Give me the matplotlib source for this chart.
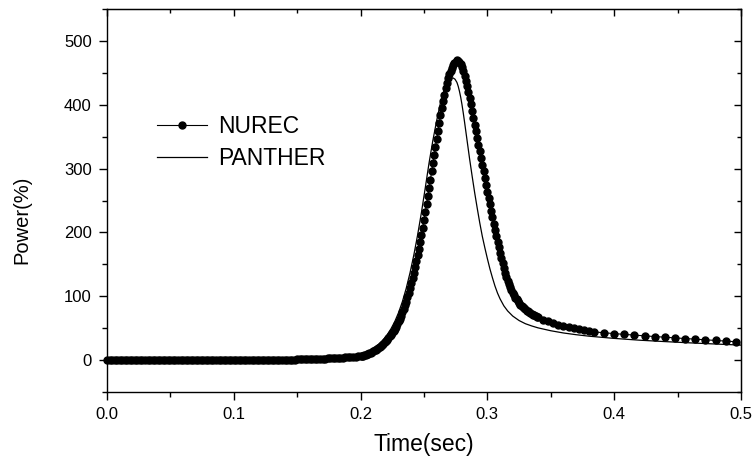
# ============================================================
# import
# ============================================================
import numpy as np
import matplotlib
matplotlib.use('Agg')
import matplotlib.pyplot as plt
from matplotlib.ticker import MultipleLocator

plt.rcParams['font.family'] = ['Liberation Sans', 'DejaVu Sans']


# ============================================================
# data
# ============================================================
# NUREC: output every 2 ms before 0.2 s, every 1 ms through the pulse,
# then 4 ms and 8 ms in the tail
nurec_flat = [0.0, 0.0, 0.0, 0.0, 0.0, 0.0, 0.0, 0.0, 0.0, 0.0,
              0.0, 0.0, 0.0, 0.0, 0.0, 0.0, 0.0, 0.0, 0.0, 0.0,
              0.0, 0.0, 0.0, 0.0, 0.0, 0.0, 0.0, 0.0, 0.0, 0.0,
              0.1, 0.1, 0.1, 0.1, 0.1, 0.1, 0.1, 0.1, 0.1, 0.1,
              0.1, 0.1, 0.1, 0.1, 0.1, 0.1, 0.2, 0.2, 0.2, 0.2,
              0.2, 0.2, 0.2, 0.2, 0.2, 0.3, 0.3, 0.3, 0.3, 0.3,
              0.3, 0.4, 0.4, 0.4, 0.5, 0.5, 0.5, 0.6, 0.6, 0.7,
              0.7, 0.8, 0.8, 0.9, 0.9, 1.0, 1.1, 1.2, 1.3, 1.4,
              1.5, 1.6, 1.8, 1.9, 2.1, 2.2, 2.4, 2.6, 2.8, 3.0,
              3.3, 3.5, 3.8, 4.0, 4.3, 4.6, 4.9, 5.2, 5.5, 5.8]
nurec_pulse = [6.0, 6.5, 7.1, 7.7, 8.4, 9.1, 9.9, 10.8, 11.8, 12.8,
               14.0, 15.2, 16.5, 17.9, 19.3, 20.8, 22.4, 24.1, 26.0, 28.0,
               30.0, 32.2, 34.6, 37.1, 39.8, 42.7, 45.8, 49.1, 52.6, 56.4,
               60.5, 64.9, 69.6, 74.6, 80.0, 85.7, 91.8, 98.3, 105.2, 112.5,
               120.2, 128.3, 136.8, 145.7, 155.0, 164.7, 174.8, 185.3, 196.2, 207.5,
               219.2, 231.3, 243.8, 256.6, 269.6, 282.7, 295.8, 308.8, 321.6, 334.0,
               346.0, 359.0, 371.5, 383.5, 395.0, 406.0, 416.0, 425.5, 434.0, 441.5,
               448.0, 453.5, 458.0, 462.0, 465.0, 467.5, 469.5, 469.0, 467.0, 463.5,
               458.5, 452.5, 445.5, 437.5, 429.0, 420.0, 410.5, 400.5, 390.0, 379.5,
               369.0, 358.5, 348.0, 337.5, 327.0, 316.5, 306.0, 295.5, 285.0, 274.5,
               264.0, 254.0, 244.0, 234.0, 224.0, 214.0, 204.5, 195.0, 185.5, 176.5,
               168.0, 159.5, 151.5, 144.0, 137.0, 130.5, 124.5, 119.0, 114.0, 109.5,
               105.5, 101.5, 98.0, 95.0, 92.0, 89.5, 87.0, 85.0, 83.0, 81.0,
               79.3, 77.7, 76.2, 74.8, 73.5, 72.2, 71.0, 69.9, 68.8, 67.8,
               66.8]
nurec_mid = [63.5, 60.6, 58.0, 55.7, 53.6, 51.7, 50.0, 48.4, 46.9, 45.5]
nurec_tail = [44.2, 42.8, 41.5, 40.3, 39.1, 38.0, 36.9, 35.8, 34.8, 33.8,
              32.8, 31.8, 30.8, 29.8, 28.8]

nurec_t = np.concatenate([
    0.000 + 0.002 * np.arange(len(nurec_flat)),
    0.200 + 0.001 * np.arange(len(nurec_pulse)),
    0.344 + 0.004 * np.arange(len(nurec_mid)),
    0.384 + 0.008 * np.arange(len(nurec_tail)),
])
nurec_p = np.array(nurec_flat + nurec_pulse + nurec_mid + nurec_tail)

panther_t = [0.000, 0.060, 0.100, 0.130, 0.150, 0.170, 0.180, 0.190, 0.200, 0.205,
             0.210, 0.215, 0.218, 0.221, 0.224, 0.227, 0.230, 0.233, 0.236, 0.239,
             0.242, 0.245, 0.248, 0.251, 0.254, 0.257, 0.260, 0.263, 0.266, 0.268,
             0.270, 0.2715, 0.273, 0.2745, 0.276, 0.277, 0.278, 0.279, 0.280, 0.281,
             0.282, 0.283, 0.284, 0.286, 0.288, 0.290, 0.292, 0.294, 0.296, 0.298,
             0.300, 0.302, 0.304, 0.306, 0.308, 0.310, 0.313, 0.316, 0.320, 0.325,
             0.330, 0.335, 0.340, 0.350, 0.360, 0.370, 0.380, 0.400, 0.420, 0.440,
             0.460, 0.480, 0.500]
panther_p = [0.0, 0.0, 0.3, 0.8, 1.5, 3.0, 4.0, 5.4, 7.7, 11.8,
             17.9, 26.0, 32.2, 39.8, 49.1, 60.5, 74.6, 91.8, 112.5, 136.8,
             164.7, 196.2, 231.3, 269.6, 308.8, 344.0, 375.0, 403.0, 424.0, 433.0,
             439.0, 441.5, 442.0, 440.0, 435.0, 429.0, 421.0, 411.5, 400.0, 387.0,
             373.0, 358.5, 344.0, 315.0, 288.0, 262.0, 238.0, 215.0, 194.0, 176.0,
             159.0, 143.0, 129.0, 116.0, 105.0, 96.0, 85.0, 77.0, 69.0, 62.0,
             57.0, 53.5, 50.5, 46.0, 42.5, 39.8, 37.5, 34.0, 31.2, 29.0,
             27.0, 25.2, 23.5]

x_ticks = [0.0, 0.1, 0.2, 0.3, 0.4, 0.5]
y_ticks = [0, 100, 200, 300, 400, 500]


# ============================================================
# plot
# ============================================================
fig = plt.figure(figsize=(7.54, 4.63), dpi=100)
ax = fig.add_axes([0.1419, 0.1533, 0.8408, 0.8272])

ax.plot(nurec_t, nurec_p, color='black', lw=0.8, marker='o', ms=5.0,
        mec='black', mfc='black', label='NUREC', clip_on=False, zorder=3)
ax.plot(panther_t, panther_p, color='black', lw=0.9, label='PANTHER', zorder=2)

ax.set_xlim(0, 0.5)
ax.set_ylim(-50, 550)
ax.set_xticks(x_ticks)
ax.set_yticks(y_ticks)
ax.set_xticklabels(['%.1f' % v for v in x_ticks])
ax.xaxis.set_minor_locator(MultipleLocator(0.05))
ax.yaxis.set_minor_locator(MultipleLocator(50))

for s in ax.spines.values():
    s.set_linewidth(1.0)

ax.tick_params(which='major', direction='out', length=6, width=1.0,
               labelsize=12, top=False, right=False)
ax.tick_params(which='minor', direction='out', length=3.5, width=1.0,
               top=False, right=False)
ax.tick_params(axis='x', which='major', pad=5)
ax.tick_params(axis='y', which='major', pad=5)

# mirrored ticks pointing inward on top and right
top = ax.secondary_xaxis('top')
top.set_xticks(x_ticks)
top.xaxis.set_minor_locator(MultipleLocator(0.05))
top.tick_params(which='major', direction='in', length=5, width=1.0, labeltop=False)
top.tick_params(which='minor', direction='in', length=3, width=1.0)
right = ax.secondary_yaxis('right')
right.set_yticks(y_ticks)
right.yaxis.set_minor_locator(MultipleLocator(50))
right.tick_params(which='major', direction='in', length=5, width=1.0, labelright=False)
right.tick_params(which='minor', direction='in', length=3, width=1.0)

ax.set_xlabel('Time(sec)', fontsize=16.5, va='center')
ax.set_ylabel('Power(%)', fontsize=14.5, va='center')
ax.xaxis.set_label_coords(0.5, -0.136)
ax.yaxis.set_label_coords(-0.134, 0.449)

ax.legend(loc='center left', bbox_to_anchor=(0.079, 0.652), frameon=False,
          fontsize=16.5, handlelength=2.2, handletextpad=0.45, labelspacing=0.38,
          borderpad=0, borderaxespad=0, numpoints=1, markerscale=1.0)

plt.savefig('out.png', dpi=100)
